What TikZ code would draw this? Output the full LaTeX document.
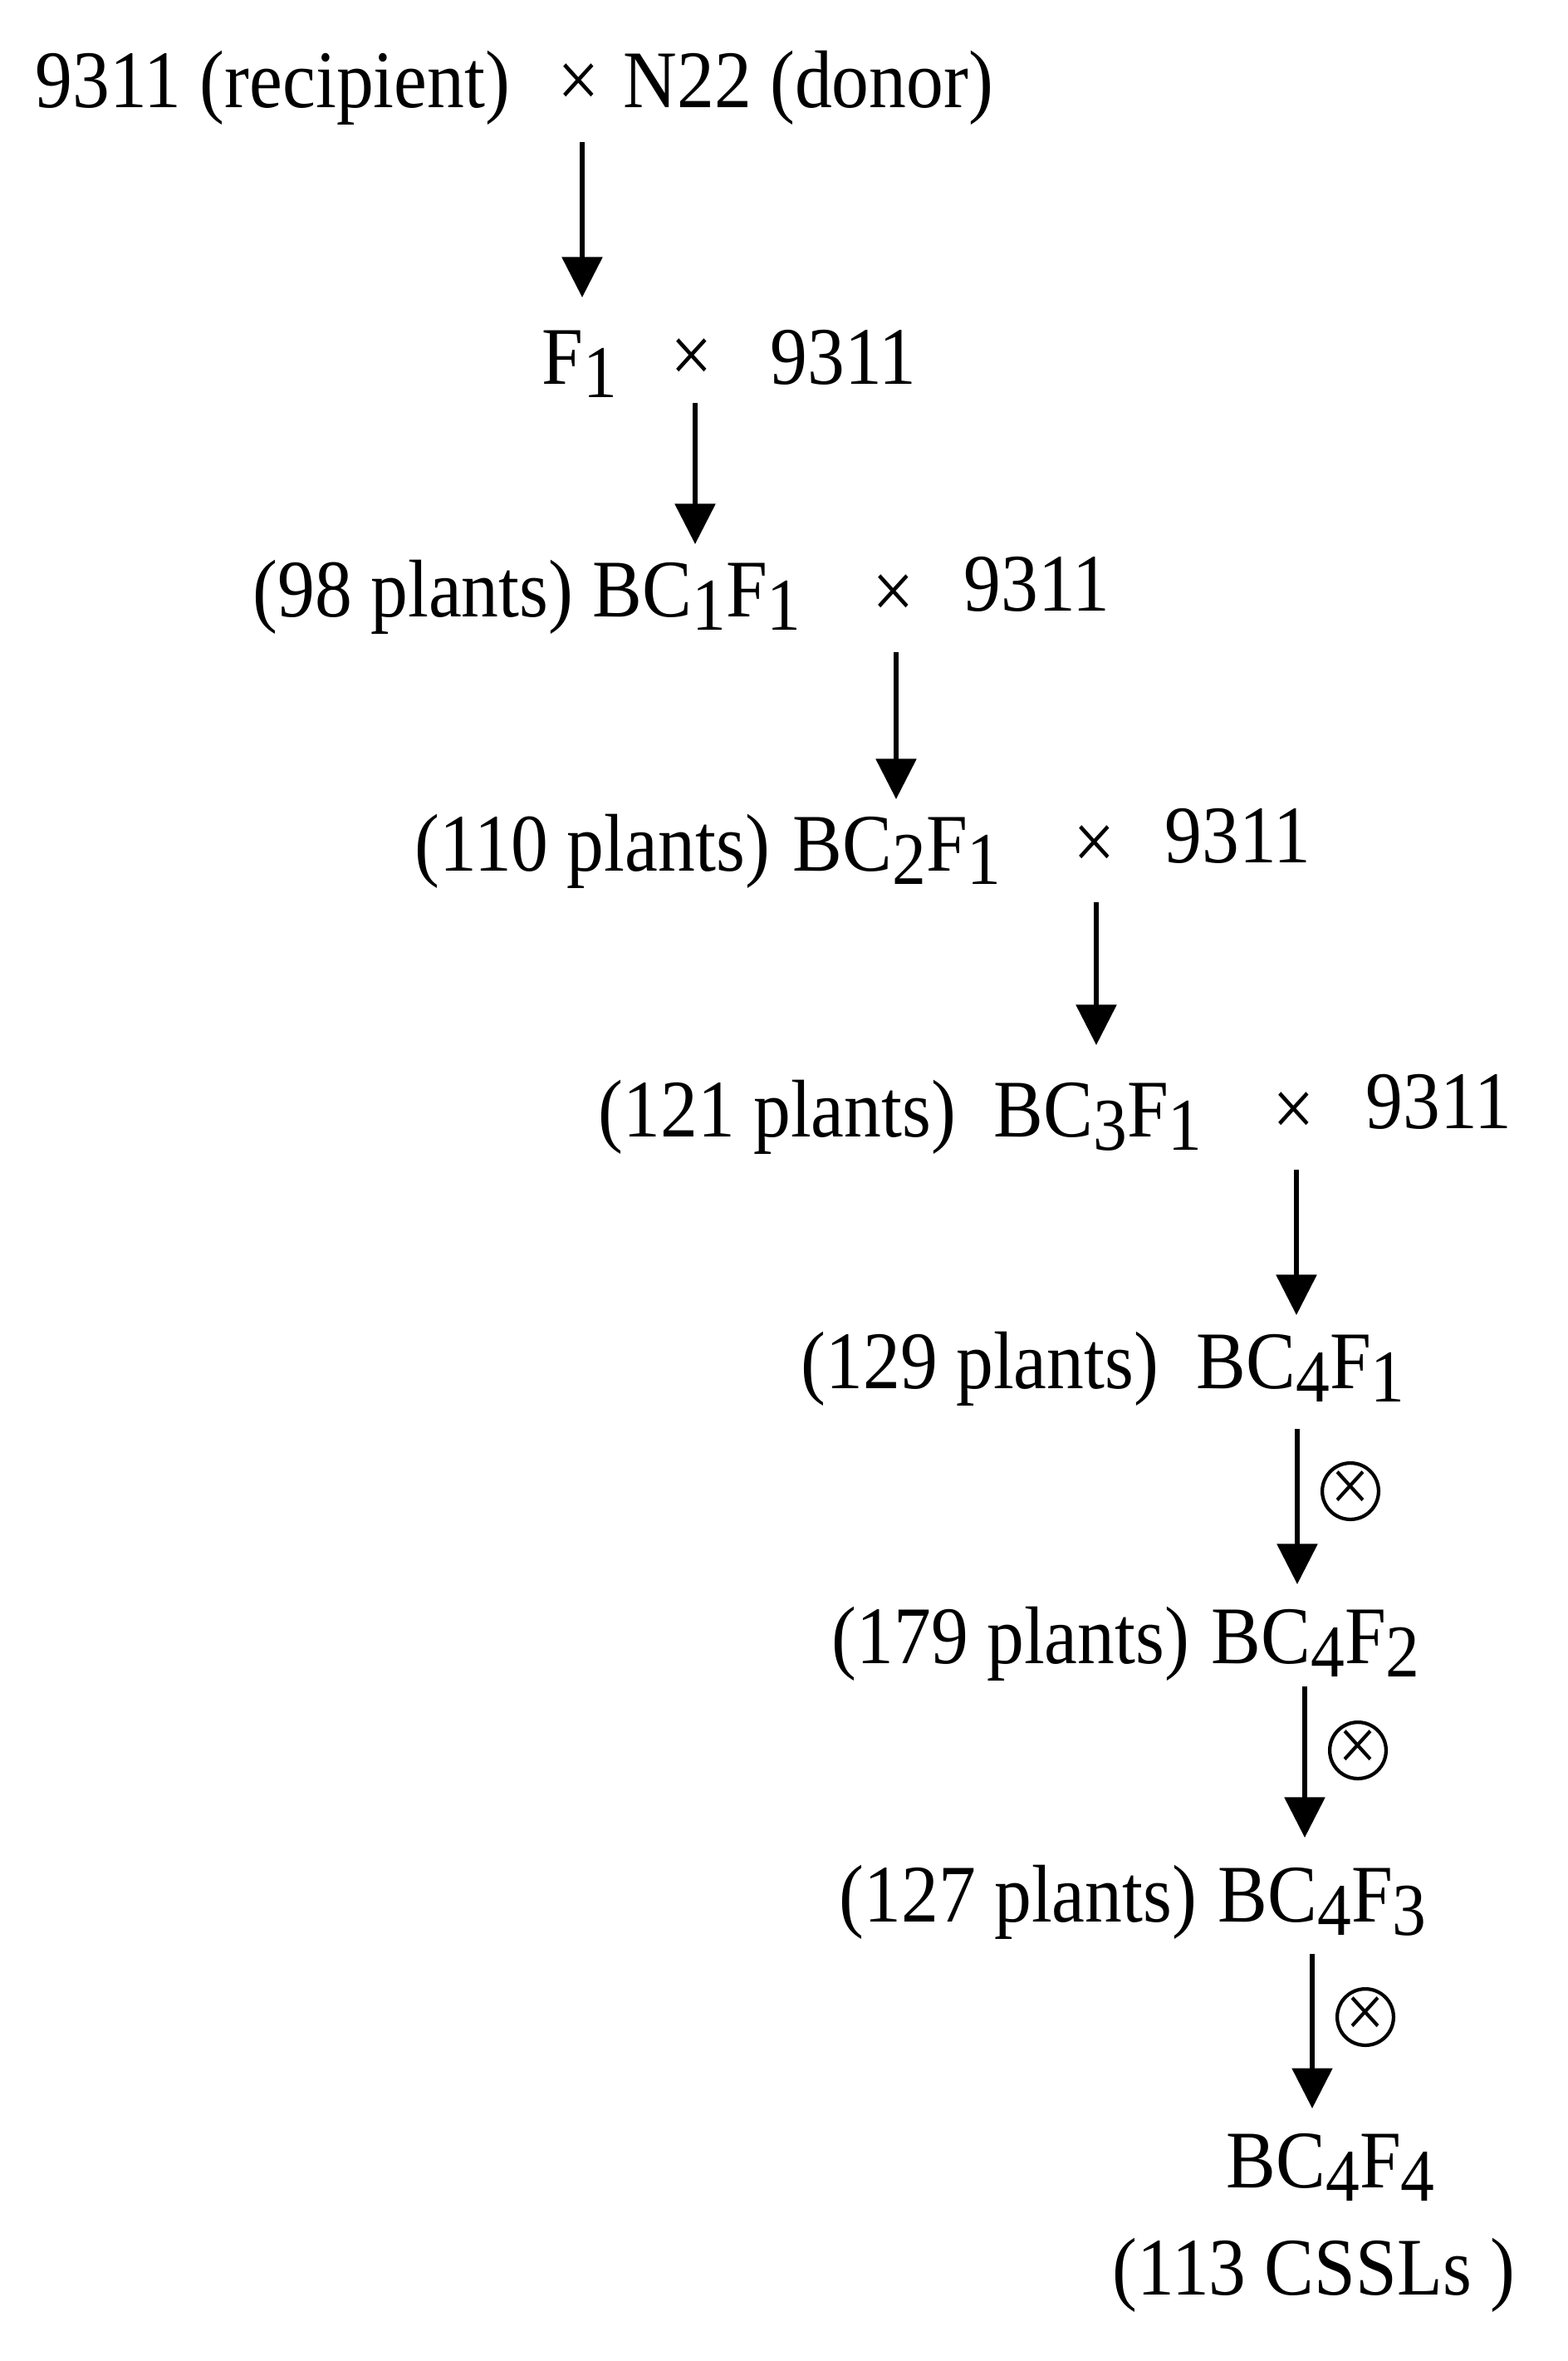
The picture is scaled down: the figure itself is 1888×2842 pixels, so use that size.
\documentclass[tikz,border=0pt]{standalone}
\usepackage{fontspec}
\setmainfont{Liberation Serif}[FakeStretch=0.91]
\usetikzlibrary{arrows.meta}
\newcommand{\fsz}{\fontsize{28}{30}\selectfont}
\newcommand{\sbs}[1]{\raisebox{-0.17em}{\fontsize{25.5}{25.5}\selectfont #1}}
\tikzset{
  lbl/.style={anchor=base west, inner sep=0pt, font=\fsz},
  crs/.style={anchor=base, inner sep=0pt, font=\fsz},
  arr/.style={line width=1.7pt, -{Triangle[width=13.6pt,length=13.8pt]}},
  selfing/.style={circle, draw, line width=1.2pt, minimum size=0.64cm, inner sep=0pt,
    font=\fontsize{26}{26}\selectfont},
}
\begin{document}
\begin{tikzpicture}[x=0.01cm, y=-0.01cm]
\useasboundingbox (0,0) rectangle (1888,2842);
% row 1
\node[lbl] (r1a) at (42,129) {9311 (recipient)};
\node[crs] (r1x) at (697,129) {×};
\node[lbl] (r1b) at (750,129) {N22 (donor)};
% row 2
\node[lbl] (r2a) at (652,462) {F\sbs{1}};
\node[crs] (r2x) at (833,460) {×};
\node[lbl] (r2b) at (927,462) {9311};
% row 3
\node[lbl] (r3a) at (304,742) {(98 plants)};
\node[lbl] (r3b) at (713,742) {BC\sbs{1}F\sbs{1}};
\node[crs] (r3x) at (1076,744) {×};
\node[lbl] (r3c) at (1160,735) {9311};
% row 4
\node[lbl] (r4a) at (499,1048) {(110 plants)};
\node[lbl] (r4b) at (954,1048) {BC\sbs{2}F\sbs{1}};
\node[crs] (r4x) at (1318,1046) {×};
\node[lbl] (r4c) at (1402,1038) {9311};
% row 5
\node[lbl] (r5a) at (720,1368) {(121 plants)};
\node[lbl] (r5b) at (1196,1368) {BC\sbs{3}F\sbs{1}};
\node[crs] (r5x) at (1558,1367) {×};
\node[lbl] (r5c) at (1644,1358) {9311};
% row 6
\node[lbl] (r6a) at (964,1671) {(129 plants)};
\node[lbl] (r6b) at (1440,1671) {BC\sbs{4}F\sbs{1}};
% row 7
\node[lbl] (r7a) at (1001,2002) {(179 plants)};
\node[lbl] (r7b) at (1458,2002) {BC\sbs{4}F\sbs{2}};
% row 8
\node[lbl] (r8a) at (1010,2313) {(127 plants)};
\node[lbl] (r8b) at (1466,2313) {BC\sbs{4}F\sbs{3}};
% row 9, 10
\node[lbl] (r9) at (1476,2633) {BC\sbs{4}F\sbs{4}};
\node[lbl] (r10) at (1339,2762) {(113 CSSLs )};
% arrow end points
\coordinate (a1s) at (701,171);  \coordinate (a1e) at (701,358);
\coordinate (a2s) at (837,485);  \coordinate (a2e) at (837,655);
\coordinate (a3s) at (1079,785); \coordinate (a3e) at (1079,962);
\coordinate (a4s) at (1320,1086);\coordinate (a4e) at (1320,1258);
\coordinate (a5s) at (1561,1408);\coordinate (a5e) at (1561,1583);
\coordinate (a6s) at (1562,1720);\coordinate (a6e) at (1562,1907);
\coordinate (a7s) at (1571,2030);\coordinate (a7e) at (1571,2212);
\coordinate (a8s) at (1580,2352);\coordinate (a8e) at (1580,2538);
\draw[arr] (a1s) -- (a1e);
\draw[arr] (a2s) -- (a2e);
\draw[arr] (a3s) -- (a3e);
\draw[arr] (a4s) -- (a4e);
\draw[arr] (a5s) -- (a5e);
\draw[arr] (a6s) -- (a6e);
\draw[arr] (a7s) -- (a7e);
\draw[arr] (a8s) -- (a8e);
% selfing symbols
\node[selfing] (s6) at (1626,1795) {×};
\node[selfing] (s7) at (1635,2107) {×};
\node[selfing] (s8) at (1644,2428) {×};
\end{tikzpicture}
\end{document}
